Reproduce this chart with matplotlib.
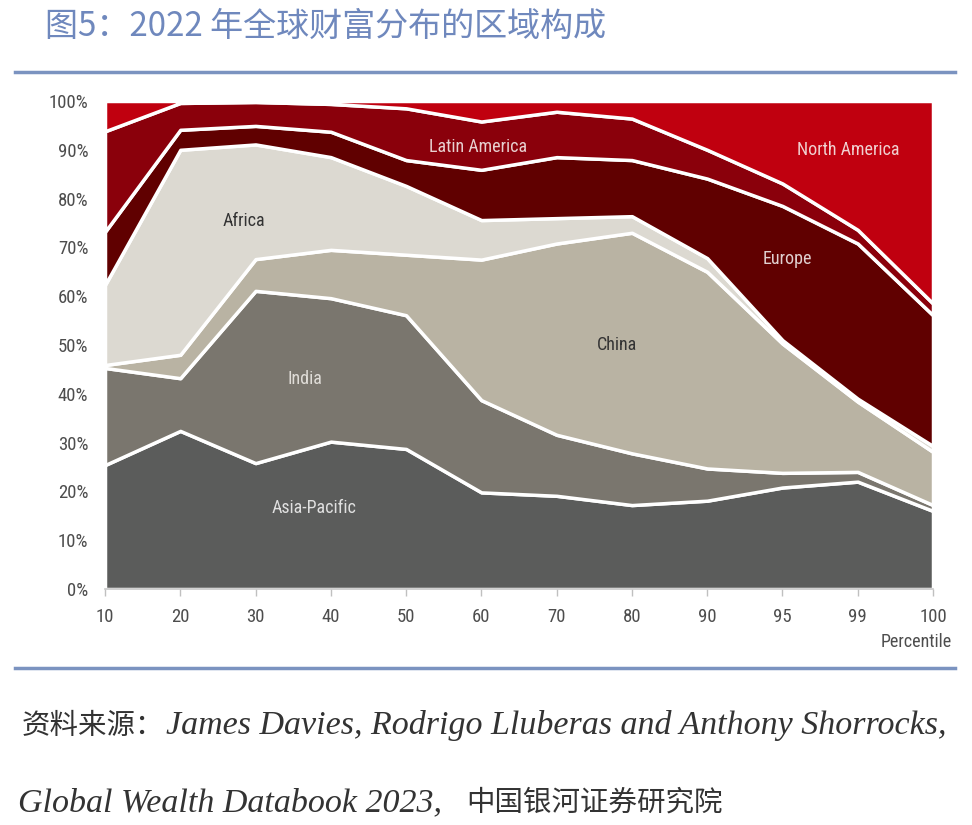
import numpy as np
import matplotlib.pyplot as plt
from matplotlib import font_manager
from matplotlib.lines import Line2D

plt.rcParams['font.family'] = ['Noto Sans CJK SC', 'DejaVu Sans']
plt.rcParams['axes.unicode_minus'] = False

# 找一个窄体字体给坐标轴和标签用
names = {f.name for f in font_manager.fontManager.ttflist}
narrow = 'Liberation Sans'
for cand in ['Liberation Sans Narrow', 'Roboto Condensed', 'Open Sans Condensed', 'DejaVu Sans Condensed']:
    if cand in names:
        narrow = cand
        break

# 百分位（等间距的类别）
percentiles = ['10', '20', '30', '40', '50', '60', '70', '80', '90', '95', '99', '100']

# 各区域财富占比 (%)，自下而上
asia_pacific = [25.4, 32.4, 25.8, 30.2, 28.7, 19.8, 19.1, 17.2, 18.1, 20.8, 22.0, 16.0]
india = [19.9, 10.8, 35.3, 29.4, 27.4, 18.9, 12.5, 10.6, 6.6, 3.0, 2.0, 1.2]
china = [0.6, 4.8, 6.5, 9.9, 12.4, 28.8, 39.2, 45.2, 40.3, 26.5, 14.4, 10.9]
africa = [16.4, 42.0, 23.5, 19.0, 14.1, 8.1, 5.2, 3.4, 2.8, 0.7, 0.6, 1.2]
europe = [10.9, 4.1, 3.8, 5.2, 5.3, 10.3, 12.5, 11.5, 16.3, 27.5, 31.8, 26.8]
latin_america = [20.6, 5.5, 4.9, 5.7, 10.6, 9.9, 9.3, 8.5, 5.9, 4.6, 2.8, 2.4]
north_america = [6.2, 0.4, 0.2, 0.6, 1.5, 4.2, 2.2, 3.6, 10.0, 16.9, 26.4, 41.5]

colors = ['#5b5c5b', '#7a766e', '#b9b3a3', '#dcd9d1', '#600000', '#8a000b', '#c0000f']

fig = plt.figure(figsize=(9.72, 8.25), dpi=100)
ax = fig.add_axes([105 / 972, 1 - 589 / 825, (933 - 105) / 972, (589 - 101) / 825])

x = np.arange(len(percentiles))
ax.stackplot(x, asia_pacific, india, china, africa, europe, latin_america, north_america,
             colors=colors, edgecolor='white', linewidth=2.5)

ax.set_xlim(0, len(percentiles) - 1)
ax.set_ylim(0, 100)
ax.set_xticks(x)
ax.set_xticklabels(percentiles)
ax.set_yticks(range(0, 101, 10))
ax.set_yticklabels([f'{v}%' for v in range(0, 101, 10)])
for s in ['top', 'right', 'left']:
    ax.spines[s].set_visible(False)
ax.spines['bottom'].set_color('#c8c8c8')
ax.spines['bottom'].set_linewidth(1.2)
ax.tick_params(axis='x', colors='#c0c0c0', length=5, width=1, labelcolor='#4d4d4d', pad=9)
ax.tick_params(axis='y', length=0, labelcolor='#4d4d4d', pad=12)
for lbl in ax.get_xticklabels() + ax.get_yticklabels():
    lbl.set_family([narrow, 'DejaVu Sans'])
    lbl.set_fontsize(13.5)

lab_kw = dict(family=[narrow, 'DejaVu Sans'], fontsize=13, ha='center', va='center')
ax.text(4.95, 90.5, 'Latin America', color='#e8d0d0', **lab_kw)
ax.text(9.87, 90.0, 'North America', color='#f0d0d0', **lab_kw)
ax.text(1.85, 75.5, 'Africa', color='#333333', **lab_kw)
ax.text(9.07, 67.6, 'Europe', color='#e0d0d0', **lab_kw)
ax.text(6.80, 50.0, 'China', color='#333333', **lab_kw)
ax.text(2.65, 43.0, 'India', color='#e0ddd8', **lab_kw)
ax.text(2.78, 16.6, 'Asia-Pacific', color='#e0e0e0', **lab_kw)

fig.text(916 / 972, 1 - 642 / 825, 'Percentile', color='#4d4d4d', ha='center', va='center',
         family=[narrow, 'DejaVu Sans'], fontsize=13)

# 标题与分隔线
fig.text(45 / 972, 1 - 26 / 825, '图5：2022 年全球财富分布的区域构成', color='#6f88bd',
         fontsize=23.8, ha='left', va='center')
for yy in [72, 668]:
    fig.add_artist(Line2D([15 / 972, 955 / 972], [1 - yy / 825, 1 - yy / 825],
                          color='#7b93c0', linewidth=2.5))

# 资料来源：中文正体，英文斜体衬线
cn_kw = dict(family=['Noto Sans CJK SC'], fontsize=20.5, color='#333333', ha='left', va='baseline')
en_kw = dict(family=['Liberation Serif'], style='italic', fontsize=24.5, color='#333333',
             ha='left', va='baseline')
fig.text(22 / 972, 1 - 734 / 825, '资料来源：', **cn_kw)
fig.text(166 / 972, 1 - 734 / 825, 'James Davies, Rodrigo Lluberas and Anthony Shorrocks,', **en_kw)
fig.text(18 / 972, 1 - 811 / 825, 'Global Wealth Databook 2023,', **en_kw)
fig.text(466 / 972, 1 - 811 / 825, '中国银河证券研究院', **cn_kw)

fig.savefig('out.png', dpi=100)
